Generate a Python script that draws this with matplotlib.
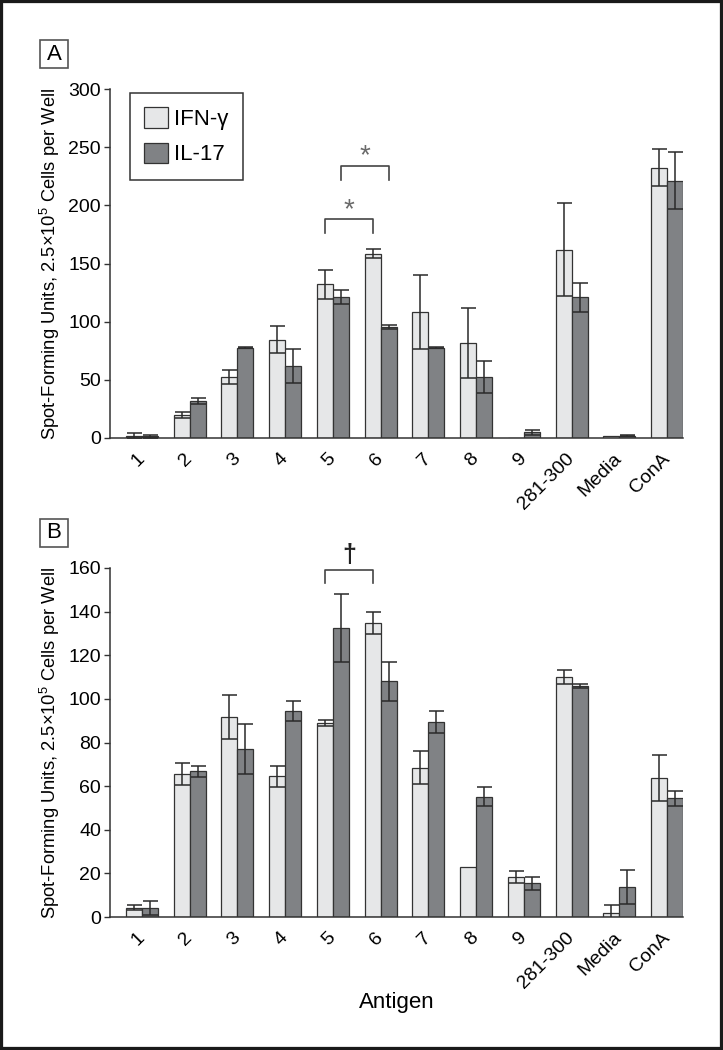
import numpy as np
import matplotlib
matplotlib.use('agg')
import matplotlib.pyplot as plt
import matplotlib.transforms as mtransforms
from matplotlib import font_manager
from matplotlib.patches import Rectangle

# --- data ---
antigens = ['1', '2', '3', '4', '5', '6', '7', '8', '9', '281-300', 'Media', 'ConA']

a_ifn = [2, 19.5, 52.5, 84.5, 132, 158.5, 108.5, 81.5, 0, 162, 1.5, 232.5]
a_ifn_err = [2.3, 2.5, 6, 11.5, 12.5, 4, 32, 30, 0, 40, 0, 16]
a_il17 = [1.5, 32, 77.5, 62, 121, 95.5, 77.5, 52.5, 5, 121, 2, 221]
a_il17_err = [1.5, 2.5, 0.5, 14.5, 6, 1.5, 0.3, 14, 2, 12.5, 0.5, 24.5]

b_ifn = [4.3, 65.5, 91.7, 64.5, 88.8, 134.8, 68.5, 22.7, 18.4, 110, 2, 63.7]
b_ifn_err = [1.1, 5, 10, 4.7, 1.4, 5.2, 7.7, 0, 2.9, 3.2, 3.5, 10.4]
b_il17 = [4.1, 66.8, 77, 94.6, 132.3, 108, 89.4, 55.1, 15.5, 106.1, 13.9, 54.5]
b_il17_err = [3.2, 2.4, 11.4, 4.6, 15.6, 9, 5.2, 4.3, 2.9, 0.9, 7.8, 3.4]

# significance brackets: (group a, group b, series offset, top y, leg y, mark, mark y)
a_brackets = [(4, 5, -1, 188, 176, '*', 196), (4, 5, 1, 234, 222, '*', 242)]
b_brackets = [(4, 5, -1, 159, 153, '\u2020', 166)]

# --- style ---
names = {f.name for f in font_manager.fontManager.ttflist}
font = 'Liberation Sans Narrow' if 'Liberation Sans Narrow' in names else 'Liberation Sans'
plt.rcParams['font.family'] = [font, 'DejaVu Sans']
plt.rcParams['mathtext.fontset'] = 'custom'
plt.rcParams['mathtext.rm'] = font
plt.rcParams['mathtext.it'] = font

ifn_color = '#e6e7e8'
il17_color = '#808285'
edge = '#333333'
width = 0.335

fig = plt.figure(figsize=(7.23, 10.5), dpi=100)
W, H = 723, 1050


def axes_px(left, top, right, bottom):
    return fig.add_axes([left / W, 1 - bottom / H, (right - left) / W, (bottom - top) / H])


def draw_panel(ax, ifn, ifn_err, il17, il17_err, ymax, ystep, brackets):
    x = np.arange(len(antigens))
    ax.bar(x - width / 2, ifn, width, color=ifn_color, edgecolor=edge, linewidth=0.9,
           label='IFN-\u03b3', zorder=2)
    ax.bar(x + width / 2, il17, width, color=il17_color, edgecolor=edge, linewidth=0.9,
           label='IL-17', zorder=2)
    for off, vals, errs in [(-1, ifn, ifn_err), (1, il17, il17_err)]:
        vals = np.array(vals)
        errs = np.array(errs)
        m = errs > 0
        ax.errorbar(x[m] + off * width / 2, vals[m], yerr=errs[m], fmt='none',
                    ecolor='#2a2a2a', elinewidth=1.1, capsize=5.4, capthick=1.1, zorder=3)
    for g1, g2, off, ytop, yleg, mark, ymark in brackets:
        x1 = g1 + off * width / 2
        x2 = g2 + off * width / 2
        ax.plot([x1, x1, x2, x2], [yleg, ytop, ytop, yleg], color='#444444', lw=1.2,
                clip_on=False, zorder=4)
        if mark == '*':
            ax.text((x1 + x2) / 2, ymark, mark, ha='center', va='center', fontsize=20,
                    color='#6a6a6a')
        else:
            ax.text((x1 + x2) / 2, ymark, mark, ha='center', va='center', fontsize=18,
                    color='#222222', fontweight='bold')

    ax.set_xlim(-0.67, len(antigens) - 1 + width)
    ax.set_ylim(0, ymax)
    ax.set_yticks(np.arange(0, ymax + 1, ystep))
    ax.set_xticks(x)
    ax.set_xticklabels(antigens, rotation=45, ha='right', va='center',
                       rotation_mode='anchor', fontsize=14)
    shift = mtransforms.ScaledTranslation(6 / 100, 0, fig.dpi_scale_trans)
    for lbl in ax.get_xticklabels():
        lbl.set_transform(lbl.get_transform() + shift)
    ax.tick_params(axis='x', length=0, pad=13)
    ax.tick_params(axis='y', length=4.5, width=1, color=edge, labelsize=14, pad=2)
    for s in ['top', 'right']:
        ax.spines[s].set_visible(False)
    for s in ['left', 'bottom']:
        ax.spines[s].set_color(edge)
        ax.spines[s].set_linewidth(1.1)
    ax.set_ylabel('Spot-Forming Units, 2.5\u00d710$^{5}$ Cells per Well', fontsize=13.2,
                  va='center')
    ax.yaxis.set_label_coords(-0.105, 0.5)


ax_a = axes_px(110, 89, 683, 438)
draw_panel(ax_a, a_ifn, a_ifn_err, a_il17, a_il17_err, 300, 50, a_brackets)
leg = ax_a.legend(loc='upper left', bbox_to_anchor=(0.035, 0.9885), borderaxespad=0,
                  fontsize=16, handlelength=1.05, handleheight=1.05, labelspacing=0.55,
                  borderpad=0.65, handletextpad=0.3, fancybox=False, framealpha=1,
                  edgecolor=edge)
leg.get_frame().set_linewidth(1.1)

ax_b = axes_px(110, 568, 683, 917)
draw_panel(ax_b, b_ifn, b_ifn_err, b_il17, b_il17_err, 160, 20, b_brackets)
ax_b.set_xlabel('Antigen', fontsize=16, va='center')
ax_b.xaxis.set_label_coords(0.5, -0.246)

# panel letters in boxes
for letter, top in [('A', 40), ('B', 519)]:
    fig.patches.append(Rectangle((40 / W, 1 - (top + 28) / H), 28 / W, 28 / H,
                                 transform=fig.transFigure, fill=False,
                                 edgecolor='#555555', lw=1.2))
    fig.text(54 / W, 1 - (top + 14) / H, letter, ha='center', va='center', fontsize=16)

# outer frame
fig.patches.append(Rectangle((0, 0), 1, 1, transform=fig.transFigure, fill=False,
                             edgecolor='#1a1a1a', lw=4.5))

fig.savefig('out.png', dpi=100)
